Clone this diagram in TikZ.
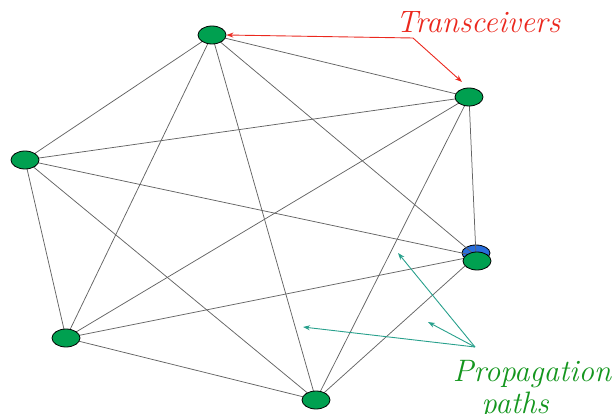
\documentclass[tikz,border=0pt]{standalone}
\usetikzlibrary{shapes.geometric,arrows.meta}
\definecolor{nodegreen}{RGB}{0,160,80}
\definecolor{nodeblue}{RGB}{40,110,220}
\definecolor{edgegray}{RGB}{100,100,100}
\definecolor{labred}{RGB}{235,40,30}
\definecolor{labgreen}{RGB}{20,150,30}
\definecolor{arrteal}{RGB}{40,160,140}
\begin{document}
\begin{tikzpicture}[x=1pt,y=-1pt,
  tr/.style={ellipse,draw=black,line width=0.8pt,fill=nodegreen,minimum width=28pt,minimum height=18pt,inner sep=0pt},
  trb/.style={tr,fill=nodeblue,minimum height=16pt},
  edge/.style={draw=edgegray,line width=0.75pt},
  redarr/.style={draw=labred,line width=0.9pt,-{Stealth[length=7pt,width=5pt]}},
  tealarr/.style={draw=arrteal,line width=0.9pt,-{Stealth[length=7pt,width=5pt]}}]
\useasboundingbox (0,0) rectangle (613,414);
\node[trb] (Db) at (476,253) {};
\coordinate (A) at (212,35);
\coordinate (B) at (469,97);
\coordinate (C) at (25,160);
\coordinate (D) at (476,256);
\coordinate (E) at (66,338);
\coordinate (F) at (316,400);
\foreach \u/\v in {A/B,A/C,A/D,A/E,A/F,B/C,B/D,B/E,B/F,C/D,C/E,C/F,D/E,D/F,E/F}
  \draw[edge] (\u) -- (\v);
\node[tr] (nA) at (A) {};
\node[tr] (nB) at (B) {};
\node[tr] (nC) at (C) {};
\node[tr] (nD) at (477,261) {};
\node[tr] (nE) at (E) {};
\node[tr] (nF) at (F) {};
\node[text=labred,font=\itshape\fontsize{31}{36}\selectfont,inner sep=0pt] (tx) at (478,22) {Transceivers};
\coordinate (bend) at (413,38);
\draw[redarr] (bend) -- (nA.east);
\draw[redarr] (bend) -- (462,82);
\node[text=labgreen,font=\itshape\fontsize{31}{32}\selectfont,align=center,inner sep=0pt] (pp) at (532,390) {Propagation\\paths\hspace*{34pt}};
\coordinate (src) at (475,347);
\coordinate (p1) at (398,253);
\coordinate (p2) at (428,322);
\coordinate (p3) at (303,327);
\draw[tealarr] (src) -- (p1);
\draw[tealarr] (src) -- (p2);
\draw[tealarr] (src) -- (p3);
\end{tikzpicture}
\end{document}
